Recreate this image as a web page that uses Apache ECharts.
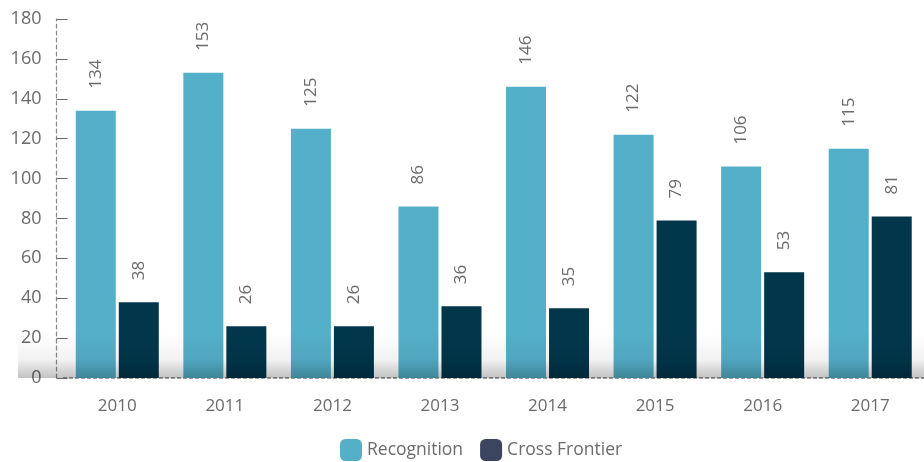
<!DOCTYPE html>
<html>
<head>
<meta charset="utf-8">
<script src="https://cdn.jsdelivr.net/npm/echarts@6/dist/echarts.min.js"></script>
<style>
  html, body { margin: 0; padding: 0; background: #fff; }
  #chart { width: 924px; height: 462px; }
</style>
</head>
<body>
<div id="chart"></div>
<script>
const years = ['2010', '2011', '2012', '2013', '2014', '2015', '2016', '2017']
const recognition = [134, 153, 125, 86, 146, 122, 106, 115]
const crossFrontier = [38, 26, 26, 36, 35, 79, 53, 81]

const fontFamily = '"Open Sans", Lato, sans-serif'
const labelGray = '#6b6b6b'

// rotated value labels above each bar
const barLabel = {
  show: true,
  position: 'top',
  rotate: 90,
  align: 'left',
  verticalAlign: 'middle',
  distance: 22,
  color: labelGray,
  fontSize: 17,
  fontFamily: fontFamily,
}

const myChart = echarts.init(document.getElementById('chart'))
const option = {
  animation: false,
  grid: { left: 63.5, right: -7.5, top: 19, bottom: 84 },
  legend: {
    left: 340,
    bottom: 1,
    padding: 0,
    itemWidth: 22,
    itemHeight: 22,
    itemGap: 17,
    textStyle: { color: labelGray, fontSize: 17.5, fontFamily: fontFamily },
    data: [
      { name: 'Recognition', itemStyle: { color: '#54afc8' } },
      { name: 'Cross Frontier', itemStyle: { color: '#3b4560' } },
    ],
  },
  xAxis: {
    type: 'category',
    data: years,
    axisLine: { lineStyle: { color: '#777', type: [3, 3], width: 1.5 } },
    axisTick: { inside: true, length: 9, lineStyle: { color: '#666' } },
    axisLabel: { margin: 20, color: labelGray, fontSize: 17, fontFamily: fontFamily },
  },
  yAxis: {
    type: 'value',
    min: 0,
    max: 180,
    interval: 20,
    offset: 7,
    axisLine: { show: true, lineStyle: { color: '#888', type: [4, 3], width: 1.2 } },
    axisTick: { show: true, inside: true, length: 11, lineStyle: { color: '#666' } },
    axisLabel: {
      margin: 15,
      padding: [0, 0, 6, 0], // labels sit a little above their ticks
      color: labelGray,
      fontSize: 18,
      fontFamily: fontFamily,
    },
    splitLine: { show: false },
  },
  series: [
    {
      name: 'Recognition',
      type: 'bar',
      data: recognition,
      barWidth: 40,
      barGap: '7.5%',
      itemStyle: { color: '#54afc8' },
      label: barLabel,
    },
    {
      name: 'Cross Frontier',
      type: 'bar',
      data: crossFrontier,
      barWidth: 40,
      itemStyle: { color: '#01364b' },
      label: barLabel,
    },
  ],
  // soft shadow band along the bottom of the plot
  graphic: [
    {
      type: 'rect',
      silent: true,
      z: 100,
      shape: { x: 18, y: 332, width: 906, height: 46 },
      style: {
        fill: new echarts.graphic.LinearGradient(0, 0, 0, 1, [
          { offset: 0, color: 'rgba(0,0,0,0)' },
          { offset: 0.6, color: 'rgba(0,0,0,0.05)' },
          { offset: 1, color: 'rgba(0,0,0,0.24)' },
        ]),
      },
    },
  ],
}
myChart.setOption(option)
</script>
</body>
</html>
